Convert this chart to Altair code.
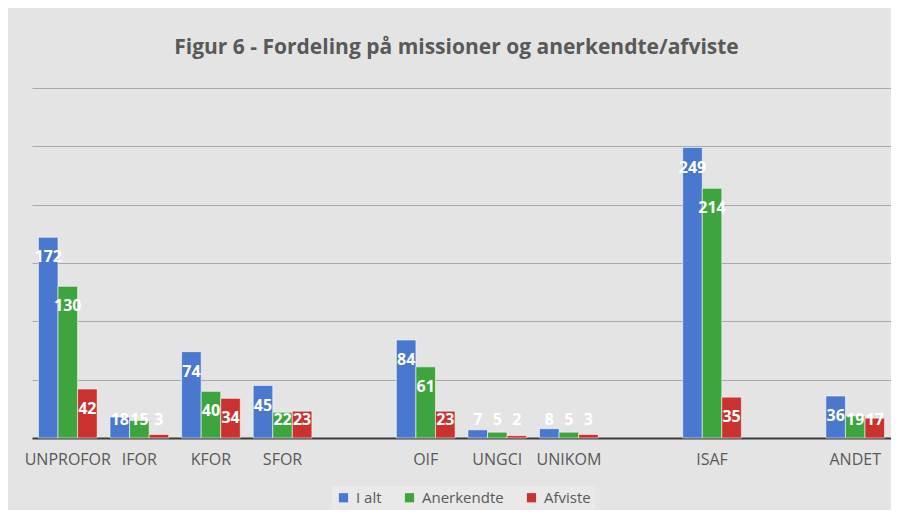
import altair as alt
import pandas as pd

categories = ["UNPROFOR", "IFOR", "KFOR", "SFOR", "gap1", "OIF", "UNGCI", "UNIKOM", "gap2", "ISAF", "gap3", "ANDET"]
missions = ["UNPROFOR", "IFOR", "KFOR", "SFOR", "OIF", "UNGCI", "UNIKOM", "ISAF", "ANDET"]
i_alt = [172, 18, 74, 45, 84, 7, 8, 249, 36]
anerkendte = [130, 15, 40, 22, 61, 5, 5, 214, 19]
afviste = [42, 3, 34, 23, 23, 2, 3, 35, 17]
series = ["I alt", "Anerkendte", "Afviste"]
colors = ["#4a78cf", "#3ea53e", "#c9322e"]

rows = []
for m, a, b, c in zip(missions, i_alt, anerkendte, afviste):
    rows.append({"mission": m, "serie": "I alt", "value": a})
    rows.append({"mission": m, "serie": "Anerkendte", "value": b})
    rows.append({"mission": m, "serie": "Afviste", "value": c})
df = pd.DataFrame(rows)

FONT = "Open Sans"
GRAY = "#595959"

xscale = alt.Scale(domain=categories, paddingInner=0.18, paddingOuter=0.09)
x_enc = alt.X(
    "mission:N",
    scale=xscale,
    axis=alt.Axis(
        title=None, labelAngle=0, ticks=False, labelPadding=13,
        labelFontSize=16, labelColor=GRAY, labelFont=FONT,
        domainColor="#3a3a3a", domainWidth=2,
        labelExpr="indexof(datum.label, 'gap') == 0 ? '' : datum.label",
    ),
)
xoff = alt.XOffset("serie:N", sort=series, scale=alt.Scale(domain=series, paddingInner=0, paddingOuter=0))

bars = alt.Chart(df).mark_bar(stroke="white", strokeWidth=0.8, strokeOpacity=0.7).encode(
    x=x_enc,
    xOffset=xoff,
    y=alt.Y(
        "value:Q",
        scale=alt.Scale(domain=[0, 300], nice=False),
        axis=alt.Axis(
            title=None, labels=False, ticks=False, domain=False,
            values=[0, 50, 100, 150, 200, 250, 300],
            gridColor="#a9a9a9", gridWidth=1, minExtent=0, maxExtent=0,
        ),
    ),
    color=alt.Color(
        "serie:N",
        sort=series,
        scale=alt.Scale(domain=series, range=colors),
        legend=alt.Legend(
            title=None, orient="none", direction="horizontal",
            legendX=300, legendY=398,
            symbolType="square", symbolSize=85, symbolStrokeWidth=0,
            labelFontSize=15, labelColor=GRAY, labelFont=FONT,
            columnPadding=20, symbolOffset=0,
            fillColor="#e9e9e9", padding=4, labelOffset=5,
        ),
    ),
)

labels = alt.Chart(df).transform_calculate(
    ly="max(datum.value - 17.2, 15.5)"
).mark_text(
    color="white", fontWeight="bold", fontSize=16, font=FONT, baseline="middle", align="center"
).encode(
    x=alt.X("mission:N", scale=xscale),
    xOffset=xoff,
    y=alt.Y("ly:Q"),
    text=alt.Text("value:Q"),
)

chart = alt.layer(bars, labels).properties(
    width=859,
    height=350,
    padding={"left": 16, "top": 29, "right": 0, "bottom": 0},
    background="#e4e4e4",
    title=alt.TitleParams(
        "Figur 6 - Fordeling på missioner og anerkendte/afviste",
        fontSize=21, fontWeight="bold", color=GRAY, font=FONT,
        anchor="middle", offset=30, dx=-5,
    ),
).configure_view(stroke=None)

chart.save("out.html", embed_options={"renderer": "svg", "actions": False})
